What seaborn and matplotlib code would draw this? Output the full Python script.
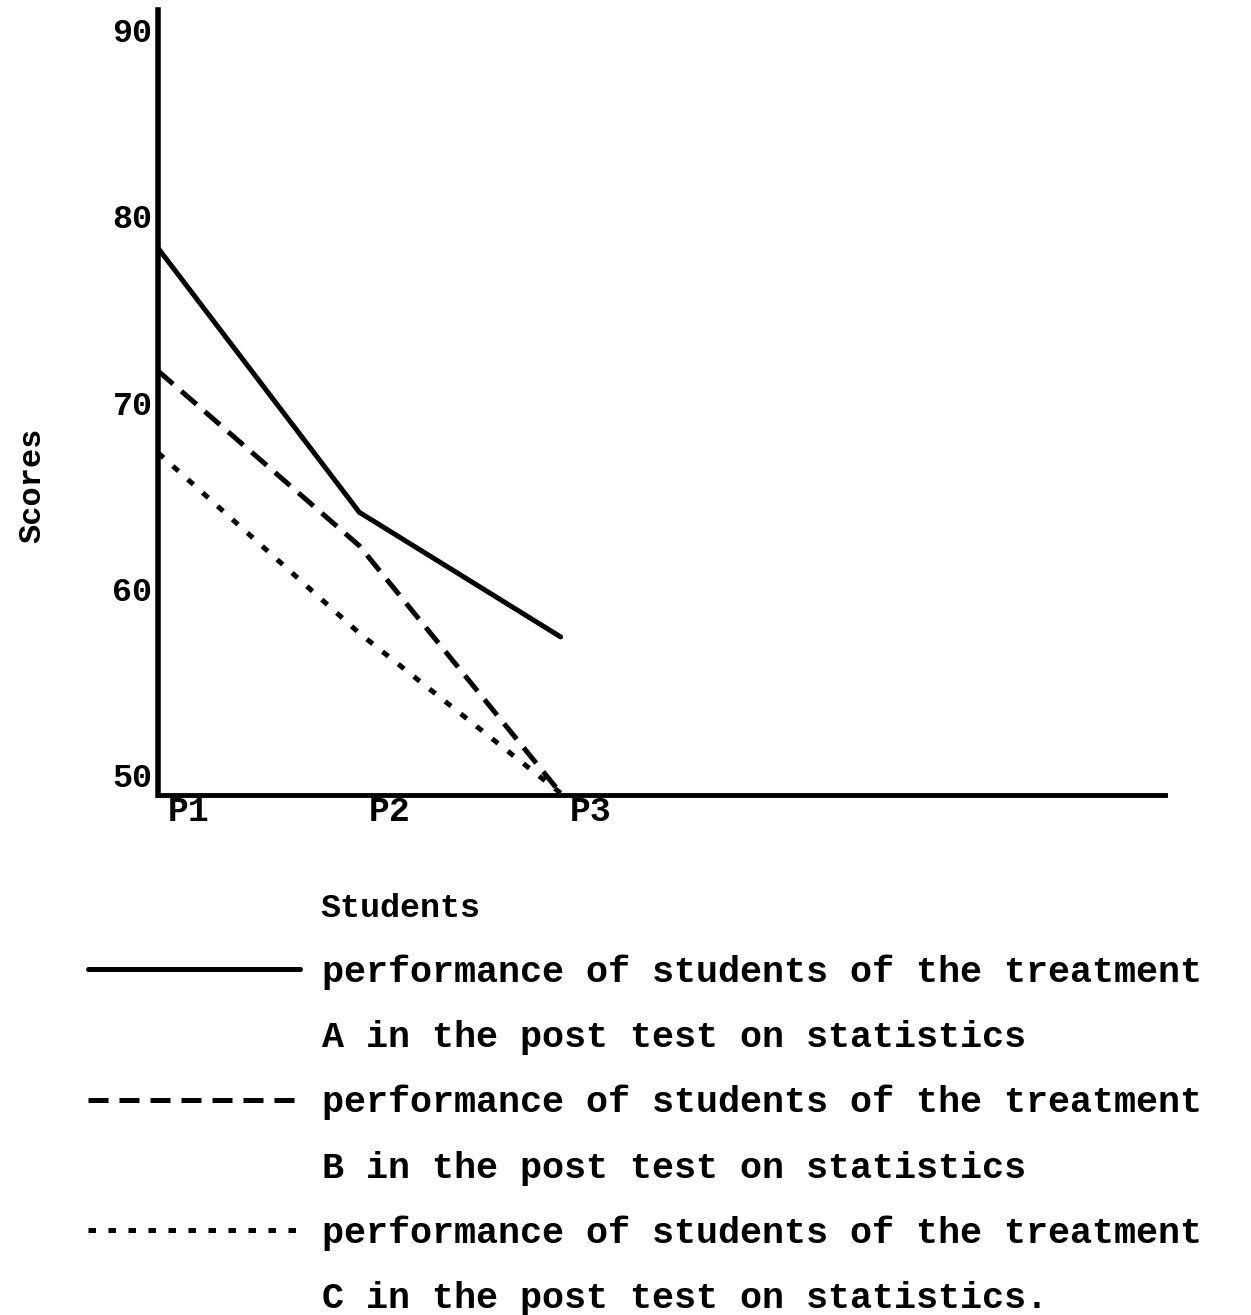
"""
Performance of students (treatments A, B, C) in the post test on statistics.
"""

import matplotlib
matplotlib.use("Agg")
import matplotlib.pyplot as plt
import pandas as pd
import seaborn as sns

# data
students = ["P1", "P2", "P3"]
scores_a = [78.3, 64.1, 57.4]
scores_b = [71.7, 62.3, 49.0]
scores_c = [67.3, 57.6, 49.0]
y_ticks = [50, 60, 70, 80, 90]

legend_first = "performance of students of the treatment"
legend_second = [
    "A in the post test on statistics",
    "B in the post test on statistics",
    "C in the post test on statistics.",
]

FONT = ["Liberation Mono", "DejaVu Sans Mono"]


def main() -> None:
    sns.set_theme(style="white")
    plt.rcParams["font.family"] = FONT
    plt.rcParams["font.weight"] = "bold"
    plt.rcParams["text.color"] = "black"
    plt.rcParams["axes.labelcolor"] = "black"

    x_pos = list(range(len(students)))
    df = pd.DataFrame({
        "x": x_pos * 3,
        "score": scores_a + scores_b + scores_c,
        "group": ["A"] * 3 + ["B"] * 3 + ["C"] * 3,
    })

    fig = plt.figure(figsize=(12.51, 13.15), dpi=100)
    ax = fig.add_axes([0.1263, 0.3954, 0.8047, 0.597])

    sns.lineplot(
        data=df, x="x", y="score", hue="group", style="group",
        palette={"A": "black", "B": "black", "C": "black"},
        dashes={"A": "", "B": (4, 2.2), "C": (1.5, 2.5)},
        linewidth=3.6, legend=False, ax=ax,
    )

    ax.set_xlim(0, 5)
    ax.set_ylim(48.9, 91.1)
    ax.set_yticks(y_ticks)
    ax.set_yticklabels([str(v) for v in y_ticks], fontsize=24, fontweight="bold")
    # the typed labels sit a little right of each data column
    ax.set_xticks([p + 0.15 for p in x_pos])
    ax.set_xticklabels(students, fontsize=25, fontweight="bold")
    ax.tick_params(axis="y", length=0, pad=4, colors="black")
    ax.tick_params(axis="x", length=0, pad=0, colors="black")

    for side in ["top", "right"]:
        ax.spines[side].set_visible(False)
    ax.spines["left"].set_linewidth(4)
    ax.spines["bottom"].set_linewidth(3.5)
    ax.spines["left"].set_color("black")
    ax.spines["bottom"].set_color("black")

    ax.set_ylabel("Scores", fontsize=23, fontweight="bold", va="center")
    ax.yaxis.set_label_coords(-0.125, 0.395)
    ax.set_xlabel("Students", fontsize=24, fontweight="bold", ha="left", va="center")
    ax.xaxis.set_label_coords(0.161, -0.144)

    # legend: one handle per treatment, second text line under each
    lines = ax.get_lines()[:3]
    handles, labels = [], []
    for line, second in zip(lines, legend_second):
        handles.append(line)
        labels.append(legend_first)
        blank = plt.Line2D([], [], color="none")
        handles.append(blank)
        labels.append(second)
    leg = fig.legend(
        handles, labels, loc="upper left", bbox_to_anchor=(0.0703, 0.2745),
        frameon=False, prop={"family": FONT, "weight": "bold", "size": 26.5},
        handlelength=5.75, handletextpad=0.6, labelspacing=0.82,
        borderpad=0, borderaxespad=0,
    )
    for h in leg.legend_handles:
        h.set_linewidth(3.6)

    fig.savefig("out.png", dpi=100, facecolor="white")


if __name__ == "__main__":
    main()
